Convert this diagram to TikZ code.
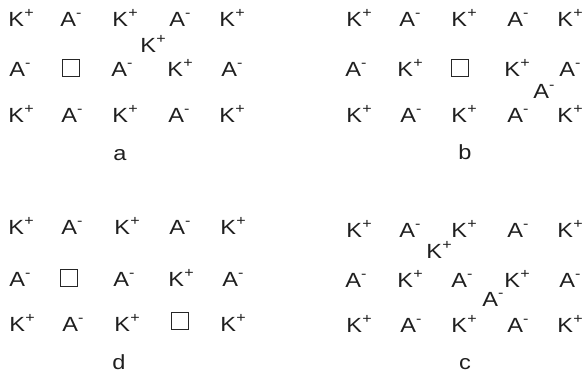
\documentclass[tikz,border=0pt]{standalone}
\usepackage{fontspec}
\setmainfont[FakeStretch=1.15]{Liberation Sans}
\newcommand{\supch}[1]{\raisebox{8.5pt}{\fontsize{14}{14}\selectfont #1}}
\newcommand{\Kp}{K\kern0.3pt\supch{+}}
\newcommand{\Am}{A\supch{-}}
\begin{document}
\begin{tikzpicture}[x=1pt,y=-1pt,
  ion/.style={anchor=base,inner sep=0pt,font=\fontsize{20.5}{20.5}\selectfont,text=black!88},
  lbl/.style={anchor=base,inner sep=0pt,font=\fontsize{20.5}{20.5}\selectfont,text=black!88},
  vac/.style={draw=black!85,line width=0.9pt,minimum size=17pt,inner sep=0pt}]
\useasboundingbox (0,0) rectangle (584,373);
% ---------- panel a ----------
\node[ion] (a11) at (21,26) {\Kp};
\node[ion] (a12) at (71,26) {\Am};
\node[ion] (a13) at (125,26) {\Kp};
\node[ion] (a14) at (180,26) {\Am};
\node[ion] (a15) at (232,26) {\Kp};
\node[ion] (ai)  at (153,52) {\Kp};
\node[ion] (a21) at (20,76) {\Am};
\node[vac] (a22) at (70.5,68) {};
\node[ion] (a23) at (122,76) {\Am};
\node[ion] (a24) at (180,76) {\Kp};
\node[ion] (a25) at (232,76) {\Am};
\node[ion] (a31) at (21,122) {\Kp};
\node[ion] (a32) at (72,122) {\Am};
\node[ion] (a33) at (125,122) {\Kp};
\node[ion] (a34) at (179,122) {\Am};
\node[ion] (a35) at (232,122) {\Kp};
\node[lbl] (la) at (120,160) {a};
% ---------- panel b ----------
\node[ion] (b11) at (359,26) {\Kp};
\node[ion] (b12) at (410,26) {\Am};
\node[ion] (b13) at (464,26) {\Kp};
\node[ion] (b14) at (518,26) {\Am};
\node[ion] (b15) at (570,26) {\Kp};
\node[ion] (b21) at (356,76) {\Am};
\node[ion] (b22) at (410,76) {\Kp};
\node[vac] (b23) at (460,68) {};
\node[ion] (b24) at (517,76) {\Kp};
\node[ion] (b25) at (570,76) {\Am};
\node[ion] (bi)  at (544,98) {\Am};
\node[ion] (b31) at (359,122) {\Kp};
\node[ion] (b32) at (411,122) {\Am};
\node[ion] (b33) at (464,122) {\Kp};
\node[ion] (b34) at (518,122) {\Am};
\node[ion] (b35) at (570,122) {\Kp};
\node[lbl] (lb) at (465,159) {b};
% ---------- panel d ----------
\node[ion] (d11) at (21,234) {\Kp};
\node[ion] (d12) at (72,234) {\Am};
\node[ion] (d13) at (127,234) {\Kp};
\node[ion] (d14) at (180,234) {\Am};
\node[ion] (d15) at (233,234) {\Kp};
\node[ion] (d21) at (20,286) {\Am};
\node[vac] (d22) at (68.5,277.5) {};
\node[ion] (d23) at (124,286) {\Am};
\node[ion] (d24) at (181,286) {\Kp};
\node[ion] (d25) at (233,286) {\Am};
\node[ion] (d31) at (22,331) {\Kp};
\node[ion] (d32) at (73,331) {\Am};
\node[ion] (d33) at (127,331) {\Kp};
\node[vac] (d34) at (179.5,321) {};
\node[ion] (d35) at (233,331) {\Kp};
\node[lbl] (ld) at (119,369) {d};
% ---------- panel c ----------
\node[ion] (c11) at (359,237) {\Kp};
\node[ion] (c12) at (410,237) {\Am};
\node[ion] (c13) at (464,237) {\Kp};
\node[ion] (c14) at (518,237) {\Am};
\node[ion] (c15) at (570,237) {\Kp};
\node[ion] (ci1) at (439,258) {\Kp};
\node[ion] (c21) at (356,287) {\Am};
\node[ion] (c22) at (410,287) {\Kp};
\node[ion] (c23) at (462,287) {\Am};
\node[ion] (c24) at (517,287) {\Kp};
\node[ion] (c25) at (570,287) {\Am};
\node[ion] (ci2) at (493,306) {\Am};
\node[ion] (c31) at (359,332) {\Kp};
\node[ion] (c32) at (411,332) {\Am};
\node[ion] (c33) at (464,332) {\Kp};
\node[ion] (c34) at (518,332) {\Am};
\node[ion] (c35) at (570,332) {\Kp};
\node[lbl] (lc) at (465,369) {c};
\end{tikzpicture}
\end{document}
